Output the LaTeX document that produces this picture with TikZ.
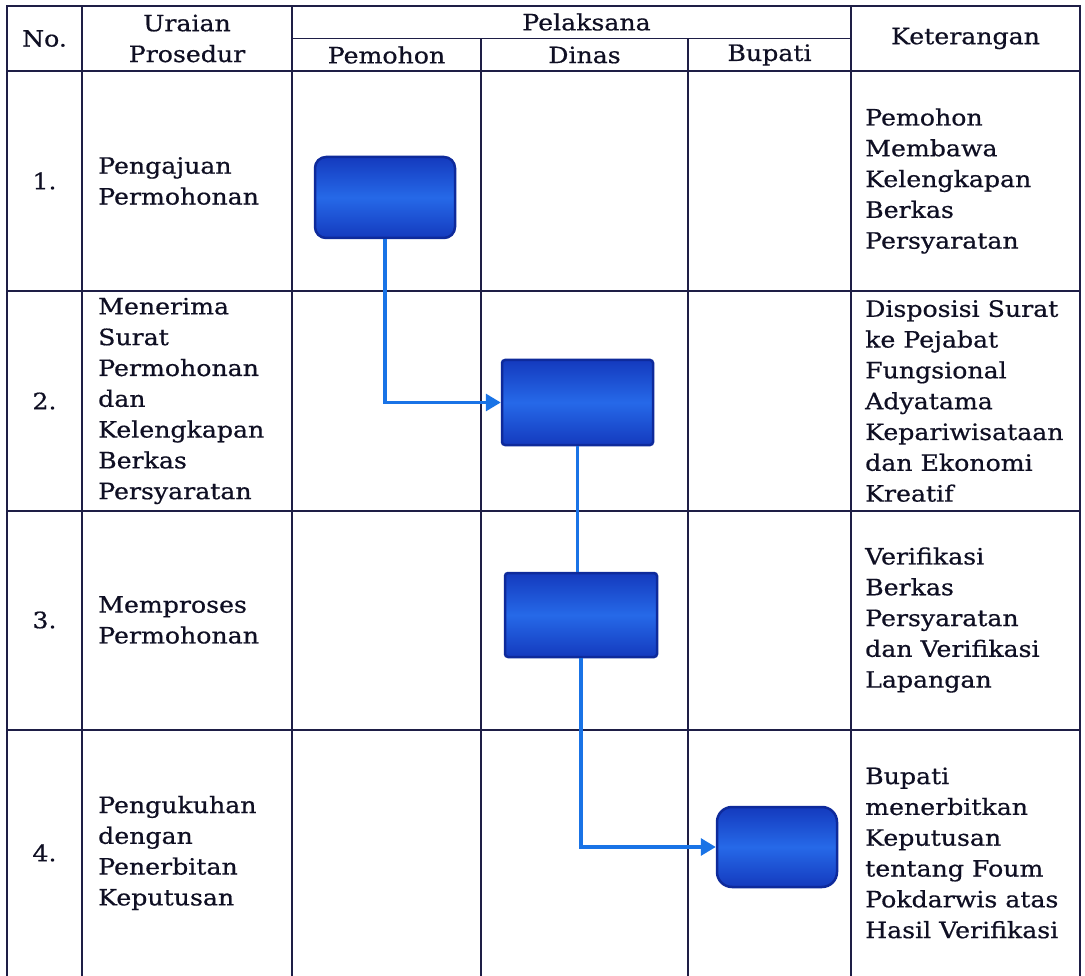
\documentclass[tikz,border=0pt]{standalone}
\usepackage{fontspec}
\setmainfont[FakeStretch=1.12,FakeBold=0.6]{DejaVu Serif}
\usetikzlibrary{arrows.meta}
\definecolor{gridc}{RGB}{30,30,70}
\definecolor{txtc}{RGB}{15,15,35}
\definecolor{boxtop}{RGB}{20,58,190}
\definecolor{boxmid}{RGB}{38,105,232}
\definecolor{boxedge}{RGB}{14,42,155}
\definecolor{linkc}{RGB}{25,115,230}
\tikzset{
  grid/.style={draw=gridc, line width=1.8pt},
  txt/.style={inner sep=0pt, text=txtc, font=\fontsize{22.5}{30.8}\selectfont},
  lefttxt/.style={txt, anchor=west, align=left},
  ctxt/.style={txt, align=center},
  procbox/.style={draw=boxedge, line width=2.5pt, inner sep=0pt,
    top color=boxtop, bottom color=boxtop, middle color=boxmid},
  link/.style={draw=linkc, line width=3.2pt},
  linkarrow/.style={link, -{Triangle[length=15pt,width=17pt]}}
}
\begin{document}
\begin{tikzpicture}[x=1pt,y=-1pt]
\useasboundingbox (0,0) rectangle (1085,976);
\fill[white] (0,0) rectangle (1085,976);

% table grid
\draw[grid] (7,976) -- (7,6) -- (1080,6) -- (1080,976);
\draw[grid] (82,6) -- (82,976);
\draw[grid] (292,6) -- (292,976);
\draw[grid] (851,6) -- (851,976);
\draw[grid] (481,38.5) -- (481,976);
\draw[grid] (688,38.5) -- (688,976);
\draw[grid] (292,38.5) -- (851,38.5);
\draw[grid] (7,71) -- (1080,71);
\draw[grid] (7,291) -- (1080,291);
\draw[grid] (7,511) -- (1080,511);
\draw[grid] (7,730) -- (1080,730);

% header
\node[ctxt] (hno) at (44.5,38.5) {No.};
\node[ctxt] (hur) at (187,38.5) {Uraian\\Prosedur};
\node[ctxt] (hpel) at (586.5,22) {Pelaksana};
\node[ctxt] (hpem) at (386.5,55) {Pemohon};
\node[ctxt] (hdin) at (584.5,55) {Dinas};
\node[ctxt] (hbup) at (769.5,55) {Bupati};
\node[ctxt] (hket) at (965.5,38.5) {Keterangan};

% numbers
\node[ctxt] (n1) at (44.5,181) {1.};
\node[ctxt] (n2) at (44.5,401) {2.};
\node[ctxt] (n3) at (44.5,620) {3.};
\node[ctxt] (n4) at (44.5,853) {4.};

% uraian prosedur
\node[lefttxt] (u1) at (98,181) {Pengajuan\\Permohonan};
\node[lefttxt] (u2) at (98,401) {Menerima\\Surat\\Permohonan\\dan\\Kelengkapan\\Berkas\\Persyaratan};
\node[lefttxt] (u3) at (98,620) {Memproses\\Permohonan};
\node[lefttxt] (u4) at (98,853) {Pengukuhan\\dengan\\Penerbitan\\Keputusan};

% keterangan
\node[lefttxt] (k1) at (865,181) {Pemohon\\Membawa\\Kelengkapan\\Berkas\\Persyaratan};
\node[lefttxt] (k2) at (865,401) {Disposisi Surat\\ke Pejabat\\Fungsional\\Adyatama\\Kepariwisataan\\dan Ekonomi\\Kreatif};
\node[lefttxt] (k3) at (865,620) {Verifikasi\\Berkas\\Persyaratan\\dan Verifikasi\\Lapangan};
\node[lefttxt] (k4) at (865,853) {Bupati\\menerbitkan\\Keputusan\\tentang Foum\\Pokdarwis atas\\Hasil Verifikasi};

% process boxes
\node[procbox, rounded corners=11pt, minimum width=140pt, minimum height=81pt] (b1) at (385,197.5) {};
\node[procbox, rounded corners=3pt, minimum width=151pt, minimum height=85pt] (b2) at (577.5,402.5) {};
\node[procbox, rounded corners=3pt, minimum width=152pt, minimum height=84pt] (b3) at (581,615) {};
\node[procbox, rounded corners=15pt, minimum width=120pt, minimum height=80pt] (b4) at (777,847) {};

% connectors
\draw[linkarrow] (b1.south) |- (b2.west);
\draw[link] (b2.south) -- (b2.south |- b3.north);
\draw[linkarrow] (b3.south) |- (b4.west);
\end{tikzpicture}
\end{document}
